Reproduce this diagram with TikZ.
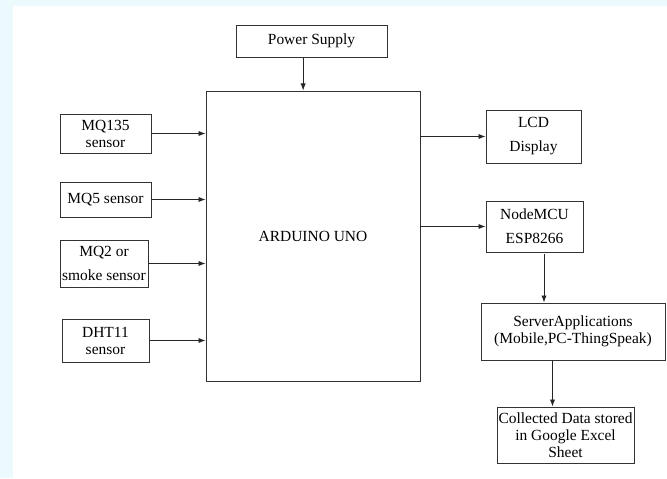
\documentclass[tikz,border=0pt]{standalone}
\usepackage{fontspec}
\setmainfont{Liberation Serif}
\usepackage{tikz}
\usetikzlibrary{positioning,arrows.meta,calc}
\definecolor{edgecyan}{RGB}{236,249,253}

\begin{document}
\begin{tikzpicture}[
  block/.style={
    draw=black!80, line width=0.8pt, inner sep=0pt, align=center,
    font=\rmfamily\fontsize{13.2}{14.5}\selectfont
  },
  arr/.style={-{Latex[length=6pt,width=4.5pt]}, line width=0.8pt, black!85}
]

% Page frame and faint edge strips
\useasboundingbox (0,0) rectangle (20.01,14.34);
\fill[white] (0,0) rectangle (20.01,14.34);
\fill[edgecyan] (0,0) rectangle (0.4,14.34);
\fill[edgecyan] (0,14.16) rectangle (20.01,14.34);

% Controller and supply
\node[block, minimum width=6.42cm, minimum height=8.7cm] (uno) at (9.39,7.26) {ARDUINO UNO};
\node[block, minimum width=4.53cm, minimum height=0.96cm] (power) at (9.345,13.11) {Power Supply};

% Sensors
\node[block, minimum width=2.73cm, minimum height=1.17cm] (mq135) at (3.165,10.335) {MQ135\\sensor};
\node[block, minimum width=2.73cm, minimum height=1.05cm] (mq5) at (3.165,8.355) {MQ5 sensor};
\node[block, minimum width=2.64cm, minimum height=1.41cm] (mq2) at (3.12,6.435) {MQ2 or\\[6pt]smoke sensor};
\node[block, minimum width=2.61cm, minimum height=1.29cm] (dht) at (3.165,4.125) {DHT11\\sensor};

% Outputs
\node[block, minimum width=2.85cm, minimum height=1.59cm] (lcd) at (16.005,10.245) {LCD\\[6pt]Display};
\node[block, minimum width=2.91cm, minimum height=1.53cm] (nodemcu) at (16.035,7.545) {NodeMCU\\[6pt]ESP8266};
\node[block, minimum width=5.52cm, minimum height=1.71cm] (server) at (17.19,4.395) {ServerApplications\\(Mobile,PC-ThingSpeak)};
\node[block, minimum width=4.11cm, minimum height=1.68cm] (sheet) at (16.965,1.29) {Collected Data stored\\in Google Excel\\Sheet};

% Supply into controller
\draw[arr] ([xshift=-0.25cm]power.south) -- ([xshift=-0.25cm]power.south |- uno.north);

% Sensor inputs
\foreach \s in {mq135,mq5,mq2,dht}
  \draw[arr] (\s.east) -- (\s.east -| uno.west);

% Controller outputs
\draw[arr] (uno.east |- lcd.west) -- (lcd.west);
\draw[arr] (uno.east |- nodemcu.west) -- (nodemcu.west);

% Cloud chain
\draw[arr] ([xshift=0.285cm,yshift=-0.06cm]nodemcu.south) -- ([xshift=0.285cm]nodemcu.south |- server.north);
\draw[arr] ([xshift=-0.39cm]sheet.north |- server.south) -- ([xshift=-0.39cm]sheet.north);

\end{tikzpicture}
\end{document}
